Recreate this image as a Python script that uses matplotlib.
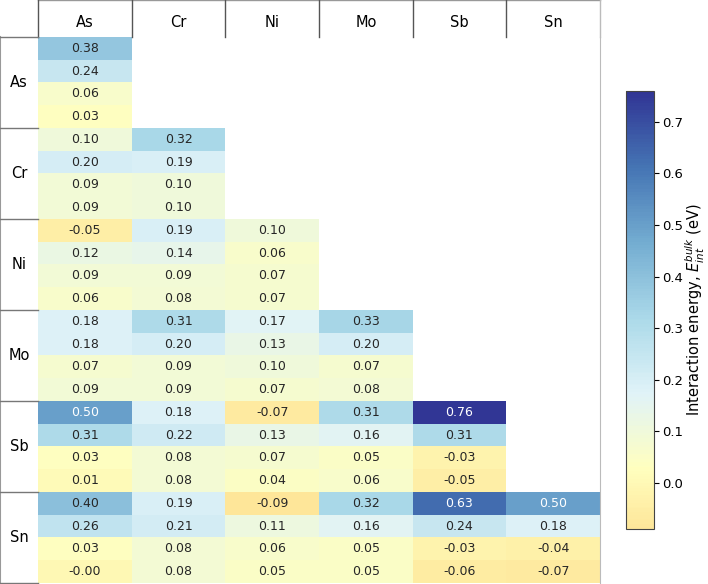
import numpy as np
import matplotlib
matplotlib.use("Agg")
import matplotlib.pyplot as plt
from matplotlib.colors import LinearSegmentedColormap

elements = ["As", "Cr", "Ni", "Mo", "Sb", "Sn"]

# values per column, starting at the diagonal row group (4 sub-rows per element)
as_vals = [0.38, 0.24, 0.06, 0.03,
           0.10, 0.20, 0.09, 0.09,
           -0.05, 0.12, 0.09, 0.06,
           0.18, 0.18, 0.07, 0.09,
           0.50, 0.31, 0.03, 0.01,
           0.40, 0.26, 0.03, -0.004]
cr_vals = [0.32, 0.19, 0.10, 0.10,
           0.19, 0.14, 0.09, 0.08,
           0.31, 0.20, 0.09, 0.09,
           0.18, 0.22, 0.08, 0.08,
           0.19, 0.21, 0.08, 0.08]
ni_vals = [0.10, 0.06, 0.07, 0.07,
           0.17, 0.13, 0.10, 0.07,
           -0.07, 0.13, 0.07, 0.04,
           -0.09, 0.11, 0.06, 0.05]
mo_vals = [0.33, 0.20, 0.07, 0.08,
           0.31, 0.16, 0.05, 0.06,
           0.32, 0.16, 0.05, 0.05]
sb_vals = [0.76, 0.31, -0.03, -0.05,
           0.63, 0.24, -0.03, -0.06]
sn_vals = [0.50, 0.18, -0.04, -0.07]

columns = [as_vals, cr_vals, ni_vals, mo_vals, sb_vals, sn_vals]
n = len(elements)
data = np.full((4 * n, n), np.nan)
for j, col in enumerate(columns):
    data[4 * j:, j] = col

# RdYlBu, upper part only
base = plt.get_cmap("RdYlBu")
cmap = LinearSegmentedColormap.from_list("rdylbu_part", base(np.linspace(0.42, 1.0, 256)))
cmap.set_bad("white")

W, H = 708, 584
fig = plt.figure(figsize=(W / 100, H / 100), dpi=100)

x0, x1 = 38, 600
y0, y1 = 37, 583

ax = fig.add_axes([x0 / W, (H - y1) / H, (x1 - x0) / W, (y1 - y0) / H])
im = ax.imshow(np.ma.masked_invalid(data), cmap=cmap, vmin=-0.09, vmax=0.76,
               aspect="auto", interpolation="nearest")
for i in range(data.shape[0]):
    for j in range(n):
        v = data[i, j]
        if np.isnan(v):
            continue
        ax.text(j, i, f"{v:.2f}", ha="center", va="center", fontsize=9,
                color="white" if v > 0.45 else "#262626")
ax.set_xticks([])
ax.set_yticks([])
for s in ["top", "left", "bottom"]:
    ax.spines[s].set_visible(False)
ax.spines["right"].set_color("#bbbbbb")

# header boxes
hx = fig.add_axes([x0 / W, (H - y0) / H, (x1 - x0) / W, y0 / H])
hx.set_xlim(0, n)
hx.set_ylim(0, 1)
hx.axis("off")
hx.plot([0, n], [1, 1], color="#999999", lw=1, clip_on=False)
for k in range(n):
    hx.plot([k, k], [0, 1], color="#555555", lw=1, clip_on=False)
hx.plot([n, n], [0, 1], color="#bbbbbb", lw=1, clip_on=False)
for k, el in enumerate(elements):
    hx.text(k + 0.5, 0.4, el, ha="center", va="center", fontsize=10.5)

# row label boxes
lx = fig.add_axes([0, (H - y1) / H, x0 / W, (y1 - y0) / H])
lx.set_xlim(0, 1)
lx.set_ylim(n, 0)
lx.axis("off")
lx.plot([0, 0], [0, n], color="#999999", lw=1.5, clip_on=False)
for k in range(n + 1):
    lx.plot([0, 1], [k, k], color="#777777", lw=1, clip_on=False)
for k, el in enumerate(elements):
    lx.text(0.5, k + 0.5, el, ha="center", va="center", fontsize=10.5)

# colorbar
cax = fig.add_axes([626 / W, (H - 529) / H, 28 / W, (529 - 91) / H])
cb = fig.colorbar(im, cax=cax)
cb.set_ticks([0.0, 0.1, 0.2, 0.3, 0.4, 0.5, 0.6, 0.7])
cb.ax.tick_params(labelsize=9.5, pad=2.5)
cb.outline.set_edgecolor("#444444")
cb.set_label(r"Interaction energy, $E_{int}^{bulk}$ (eV)", fontsize=10.5, labelpad=0)

fig.savefig("out.png", dpi=100)
